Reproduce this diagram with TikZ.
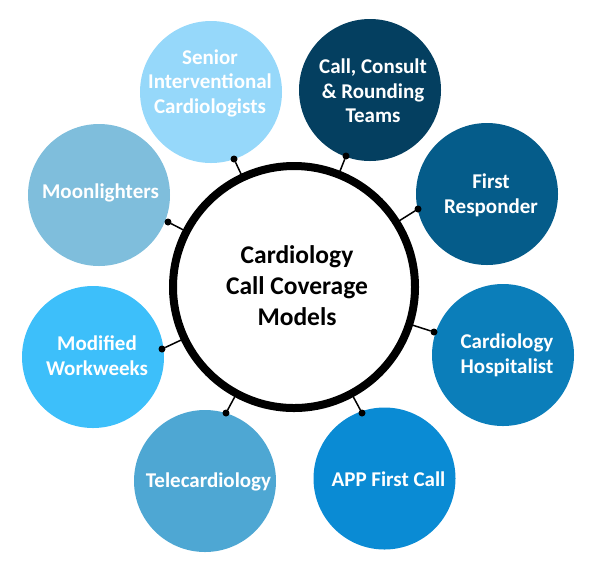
\documentclass[tikz,border=0pt]{standalone}
\usepackage{fontspec}
\setmainfont{Carlito}
\definecolor{cSenior}{HTML}{96D8FA}
\definecolor{cCall}{HTML}{043F60}
\definecolor{cFirst}{HTML}{055C8A}
\definecolor{cHosp}{HTML}{0B7EBA}
\definecolor{cApp}{HTML}{0A8BD4}
\definecolor{cTele}{HTML}{4EA7D3}
\definecolor{cMod}{HTML}{3DBFFA}
\definecolor{cMoon}{HTML}{7FBEDC}
\begin{document}
\begin{tikzpicture}[x=1pt,y=-1pt,
  bubble/.style={circle, minimum size=142pt, inner sep=0pt, outer sep=0pt},
  btext/.style={text=white, font=\fontsize{21}{24.5}\selectfont\bfseries, align=center, inner sep=0pt},
  hubstyle/.style={circle, draw=black, line width=8pt, fill=white, minimum size=242pt, inner sep=0pt, outer sep=0pt},
  htext/.style={font=\fontsize{25.5}{31}\selectfont\bfseries, align=center, inner sep=0pt},
  conn/.style={line width=1.5pt, black},
  dotc/.style={circle, fill=black, minimum size=7pt, inner sep=0pt, outer sep=0pt}]
\useasboundingbox (0,0) rectangle (593,566);

% outer bubbles
\node[bubble, fill=cSenior] (senior) at (211,92) {};
\node[bubble, fill=cCall]   (call)   at (370,90) {};
\node[bubble, fill=cFirst]  (first)  at (487,194) {};
\node[bubble, fill=cHosp]   (hosp)   at (503,355) {};
\node[bubble, fill=cApp]    (app)    at (384.5,478.5) {};
\node[bubble, fill=cTele]   (tele)   at (205,481) {};
\node[bubble, fill=cMod]    (mod)    at (93,357) {};
\node[bubble, fill=cMoon]   (moon)   at (99,195) {};

% bubble texts
\node[btext] (tSenior) at (210,83) {Senior\\Interventional\\Cardiologists};
\node[btext] (tCall)   at (373,91) {Call, Consult\\\& Rounding\\Teams};
\node[btext] (tFirst)  at (491,195.5) {First\\Responder};
\node[btext] (tHosp)   at (507,355.5) {Cardiology\\Hospitalist};
\node[btext] (tApp)    at (388.5,479) {APP First Call};
\node[btext] (tTele)   at (208.5,482) {Telecardiology};
\node[btext] (tMod)    at (97,355.5) {Modified\\Workweeks};
\node[btext] (tMoon)   at (100.5,193) {Moonlighters};

% hub
\node[hubstyle] (hub) at (294,287) {};
\node[htext] (hubtext) at (297,286) {Cardiology\\Call Coverage\\Models};

% connector dots
\node[dotc] (d1) at (234,159) {};
\node[dotc] (d2) at (346,156) {};
\node[dotc] (d3) at (418,209) {};
\node[dotc] (d4) at (434,332) {};
\node[dotc] (d5) at (362,413) {};
\node[dotc] (d6) at (226,413) {};
\node[dotc] (d7) at (162,349) {};
\node[dotc] (d8) at (168,222) {};

\foreach \d in {d1,d2,d3,d4,d5,d6,d7,d8}
  \draw[conn] (hub) -- (\d);
\end{tikzpicture}
\end{document}
